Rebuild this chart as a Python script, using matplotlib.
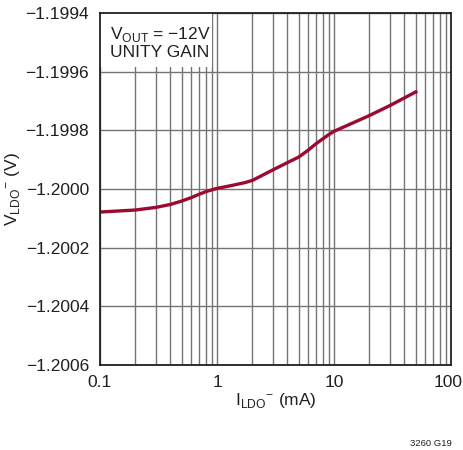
import numpy as np
import matplotlib.pyplot as plt
import matplotlib.transforms as mtransforms
from matplotlib.patches import Rectangle
from matplotlib.ticker import FixedLocator, LogLocator, NullFormatter

plt.rcParams['font.family'] = ['Liberation Sans', 'DejaVu Sans']
plt.rcParams['mathtext.fontset'] = 'custom'
plt.rcParams['mathtext.rm'] = 'Liberation Sans'

# load current (mA) and LDO- output voltage (V)
i_ldo = [0.1, 0.2, 0.3, 0.4, 0.5, 0.6, 0.7, 0.8, 0.9, 1.0, 1.3, 1.7, 2.0, 3.0, 4.0,
         5.0, 6.0, 7.0, 8.0, 9.0, 10.0, 20.0, 30.0, 40.0, 50.0]
v_ldo = [-1.2000785, -1.2000717, -1.2000628, -1.2000526, -1.2000410, -1.2000297,
         -1.2000184, -1.2000092, -1.2000030, -1.1999980, -1.1999890, -1.1999790,
         -1.1999710, -1.1999350, -1.1999100, -1.1998910, -1.1998680, -1.1998460,
         -1.1998294, -1.1998147, -1.1998034, -1.1997498, -1.1997157, -1.1996894,
         -1.1996689]

y_ticks = [-1.2006, -1.2004, -1.2002, -1.2000, -1.1998, -1.1996, -1.1994]
y_labels = ['\u2212' + f'{abs(v):.4f}' for v in y_ticks]
x_ticks = [0.1, 1, 10, 100]
x_labels = ['0.1', '1', '10', '100']

ink = '#231f20'
fig = plt.figure(figsize=(4.64, 4.5), dpi=100)
ax = fig.add_axes([100/464, 85/450, 351/464, 352/450])

ax.set_xscale('log')
ax.set_xlim(0.1, 100)
ax.set_ylim(-1.2006, -1.1994)

ax.xaxis.set_major_locator(FixedLocator(x_ticks))
ax.set_xticklabels(x_labels)
ax.xaxis.set_minor_locator(LogLocator(base=10, subs=np.arange(2, 10)))
ax.xaxis.set_minor_formatter(NullFormatter())
ax.set_yticks(y_ticks)
ax.set_yticklabels(y_labels)

ax.grid(True, which='both', axis='x', color='#747474', lw=1.0)
ax.grid(True, which='major', axis='y', color='#747474', lw=1.0)
ax.tick_params(axis='y', which='both', length=0, labelsize=12.5, colors=ink, pad=8)
ax.tick_params(axis='x', which='both', length=0, labelsize=12.5, colors=ink, pad=7)
for s in ax.spines.values():
    s.set_color(ink)
    s.set_linewidth(1.3)
    s.set_zorder(5)

# nudge the "100" label so it stays inside the picture
lbl = ax.get_xticklabels()[-1]
lbl.set_transform(lbl.get_transform() + mtransforms.ScaledTranslation(-3/100, 0, fig.dpi_scale_trans))

ax.plot(i_ldo, v_ldo, color='#9b0a30', lw=2.4, zorder=3)

# white box behind the condition note
ax.add_patch(Rectangle((0, 0.848), 0.318, 0.152, transform=ax.transAxes,
                       facecolor='white', edgecolor='none', zorder=4))
ax.text(0.028, 0.965, 'V$_{\\mathregular{OUT}}$ = \u221212V\nUNITY GAIN', transform=ax.transAxes,
        fontsize=12.5, va='top', ha='left', color=ink, linespacing=1.05, zorder=6)

ax.set_xlabel('I$_{\\mathregular{LDO}}$$^{\\mathregular{\u2212}}$ (mA)', fontsize=12.5, color=ink, labelpad=1)
ax.set_ylabel('V$_{\\mathregular{LDO}}$$^{\\mathregular{\u2212}}$ (V)', fontsize=12.5, color=ink, labelpad=2)

fig.text(452/464, 1 - 443/450, '3260 G19', fontsize=6.8, color=ink, ha='right', va='center')

fig.savefig('out.png', dpi=100)
